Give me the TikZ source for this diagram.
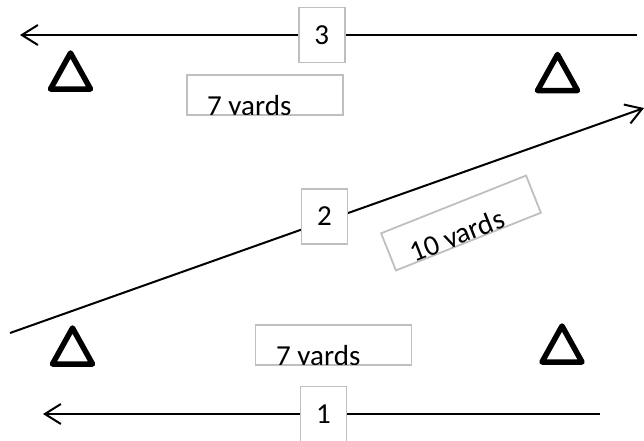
\documentclass[tikz,border=0pt]{standalone}
\usepackage{fontspec}
\setmainfont{Carlito}
\usetikzlibrary{arrows.meta}
\definecolor{boxgray}{RGB}{191,191,191}
\begin{document}
\begin{tikzpicture}[x=1pt,y=-1pt,
  route/.style={line width=2pt, -{Straight Barb[length=16pt,width=20pt,line width=2pt]}},
  numbox/.style={draw=boxgray, line width=1.8pt, fill=white, minimum width=46pt, minimum height=55pt, inner sep=0pt, font=\fontsize{29}{31}\selectfont},
  ydbox/.style={draw=boxgray, line width=1.8pt, fill=white, minimum width=156pt, minimum height=40pt, inner sep=0pt},
  ydtext/.style={anchor=base west, inner sep=0pt, font=\fontsize{29}{31}\selectfont},
  conestroke/.style={draw=black, line width=5.5pt, line join=round},
  cone/.pic={\draw[conestroke] (-20,18) -- (20,18) -- (0,-18) -- cycle;}
]
\useasboundingbox (0,0) rectangle (644,440);

% cones
\pic (c1) at (70.5,71) {cone};
\pic (c2) at (557.5,72.5) {cone};
\pic (c3) at (72.5,346) {cone};
\pic (c4) at (562,344) {cone};

% route end points
\coordinate (r3s) at (637,35);  \coordinate (r3e) at (20,35);
\coordinate (r2s) at (10,333);  \coordinate (r2e) at (644,108);
\coordinate (r1s) at (600,414); \coordinate (r1e) at (43,414);

\draw[route] (r3s) -- node[numbox, pos=0.511] (n3) {3} (r3e);
\draw[route] (r2s) -- node[numbox, pos=0.496, yshift=5pt] (n2) {2} (r2e);
\draw[route] (r1s) -- node[numbox, pos=0.4964] (n1) {1} (r1e);

% distance boxes
\begin{scope}[shift={(265,95)}]
  \node[ydbox] (y3) at (0,0) {};
  \begin{scope}
    \clip (-77.1,-19.1) rectangle (77.1,19.1);
    \node[ydtext] (y3t) at (-58,20) {7 yards};
  \end{scope}
\end{scope}

\begin{scope}[shift={(333.5,345)}]
  \node[ydbox] (y1) at (0,0) {};
  \begin{scope}
    \clip (-77.1,-19.1) rectangle (77.1,19.1);
    \node[ydtext] (y1t) at (-57.5,20) {7 yards};
  \end{scope}
\end{scope}

\begin{scope}[shift={(461,223)}, rotate=21.7]
  \node[ydbox, transform shape] (y2) at (0,0) {};
  \begin{scope}
    \clip (-77.1,-19.1) rectangle (77.1,19.1);
    \node[ydtext, transform shape] (y2t) at (-58,20) {10 yards};
  \end{scope}
\end{scope}
\end{tikzpicture}
\end{document}
